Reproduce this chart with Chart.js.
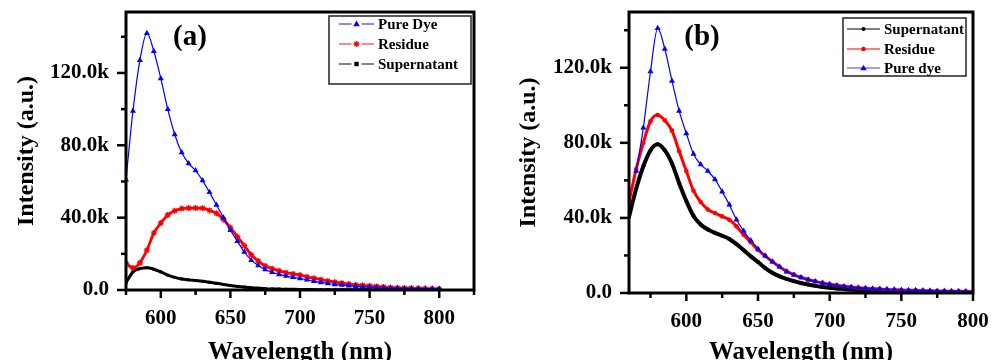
<!DOCTYPE html>
<html lang="en">
  <head>
    <meta charset="UTF-8" />
    <title>Emission spectra</title>
    <script src="https://cdn.jsdelivr.net/npm/chart.js"></script>
    <style>
      body { margin: 0; background: #fff; }
      #wrap { position: relative; width: 1003px; height: 360px; }
      canvas { position: absolute; top: 0; }
    </style>
  </head>
  <body>
    <div id="wrap">
      <canvas id="chartA" width="490" height="360" style="left: 0px"></canvas>
      <canvas id="chartB" width="503" height="360" style="left: 500px"></canvas>
    </div>

    <script>
      // intensities in thousands (k)
      // panel (a)
      const wlA = [575, 580, 585, 590, 595, 600, 605, 610, 615, 620,
        625, 630, 635, 640, 645, 650, 655, 660, 665, 670,
        675, 680, 685, 690, 695, 700, 705, 710, 715, 720,
        725, 730, 735, 740, 745, 750, 755, 760, 765, 770,
        775, 780, 785, 790, 795, 800];
      const pureDyeA = [61, 99, 127, 142, 132, 117, 100, 86, 76, 70,
        66, 60.5, 54, 47, 40, 33, 27, 21, 16.5, 13.5,
        11.3, 9.8, 8.6, 7.7, 7.0, 6.4, 5.6, 4.9, 4.2, 3.6,
        3.1, 2.7, 2.3, 2.0, 1.7, 1.5, 1.3, 1.15, 1.0, 0.9,
        0.85, 0.8, 0.75, 0.7, 0.65, 0.6];
      const residueA = [14.8, 12.2, 15, 22, 31.5, 37, 41.5, 43.8, 45, 45.3,
        45.3, 45.2, 44, 42.4, 39, 34.5, 29.5, 24.5, 19.5, 16,
        13.3, 11.8, 10.6, 9.6, 8.9, 8.3, 7.3, 6.5, 5.7, 5.0,
        4.4, 3.8, 3.3, 2.9, 2.6, 2.3, 2.0, 1.7, 1.4, 1.2,
        1.1, 1.0, 0.9, 0.8, 0.7, 0.6];
      const supernatantA = [4, 10, 11.8, 12.3, 11.5, 10, 8.2, 7, 6.1, 5.6,
        5.2, 4.8, 4.3, 3.7, 3.1, 2.5, 2.0, 1.6, 1.25, 1.0,
        0.75, 0.6, 0.5, 0.4, 0.35, 0.3, 0.25, 0.2, 0.2, 0.15,
        0.15, 0.1, 0.1, 0.1, 0.1, 0.05, 0.05, 0.05, 0.05, 0.05,
        0, 0, 0, 0, 0, 0];

      // panel (b)
      const wlB = [560, 565, 570, 575, 580, 585, 590, 595, 600, 605,
        610, 615, 620, 625, 630, 635, 640, 645, 650, 655,
        660, 665, 670, 675, 680, 685, 690, 695, 700, 705,
        710, 715, 720, 725, 730, 735, 740, 745, 750, 755,
        760, 765, 770, 775, 780, 785, 790, 795, 800];
      const supernatantB = [40.5, 55.5, 67.5, 76, 79.2, 76, 69, 58.5, 49, 41,
        36.5, 33.8, 32, 30.5, 28.8, 26, 22.8, 19.5, 16.5, 13.3,
        10.8, 8.9, 7.5, 6.3, 5.3, 4.5, 3.8, 3.2, 2.8, 2.4,
        2.1, 1.8, 1.6, 1.4, 1.2, 1.05, 0.9, 0.8, 0.7, 0.65,
        0.6, 0.55, 0.5, 0.45, 0.4, 0.4, 0.35, 0.35, 0.3];
      const residueB = [48.5, 66, 80, 91.5, 94.8, 92, 86.5, 75.5, 65, 54.5,
        48.5, 44.5, 42.6, 40.8, 39, 35.5, 31, 27, 23, 19.8,
        16.8, 14, 11.6, 9.8, 8.4, 7.2, 6.2, 5.4, 4.7, 4.1,
        3.6, 3.2, 2.8, 2.5, 2.3, 2.1, 1.9, 1.75, 1.6, 1.5,
        1.4, 1.3, 1.2, 1.1, 1.0, 0.95, 0.9, 0.85, 0.8];
      const pureDyeB = [null, 65, 88, 118, 141, 130, 113, 97, 85, 74,
        68.5, 65, 60.5, 54, 47, 39, 33, 28, 23.5, 19.8,
        16.6, 14, 11.3, 9.6, 8.2, 7.1, 6.1, 5.3, 4.6, 4.0,
        3.5, 3.1, 2.8, 2.5, 2.3, 2.1, 1.95, 1.8, 1.65, 1.5,
        1.4, 1.3, 1.2, 1.1, 1.0, 0.95, 0.9, 0.85, 0.8];

      // tick positions
      const yMajor = [0, 40, 80, 120];
      const yMinor = [20, 60, 100, 140];
      const xMajor = [600, 650, 700, 750, 800];
      const xMinor = [575, 625, 675, 725, 775, 825];

      const FONT = '"Liberation Serif", "Times New Roman", serif';

      const toXY = (xs, ys) => xs.map((x, i) => ({ x: x, y: ys[i] }));

      function drawMarker(ctx, style, x, y, r, color) {
        ctx.save();
        ctx.fillStyle = color;
        ctx.strokeStyle = color;
        ctx.lineWidth = 1.3;
        ctx.beginPath();
        if (style === "triangle") {
          ctx.moveTo(x, y - r);
          ctx.lineTo(x + r * 0.95, y + r * 0.65);
          ctx.lineTo(x - r * 0.95, y + r * 0.65);
          ctx.closePath();
          ctx.fill();
        } else if (style === "rect") {
          ctx.fillRect(x - r, y - r, 2 * r, 2 * r);
        } else if (style === "star") {
          for (let k = 0; k < 4; k++) {
            const a = (k * Math.PI) / 4;
            ctx.moveTo(x - r * Math.cos(a), y - r * Math.sin(a));
            ctx.lineTo(x + r * Math.cos(a), y + r * Math.sin(a));
          }
          ctx.stroke();
        } else {
          ctx.arc(x, y, r, 0, Math.PI * 2);
          ctx.fill();
        }
        ctx.restore();
      }

      // frame, tick marks, panel letter and legend box
      const decor = {
        id: "decor",
        afterDraw(chart, args, o) {
          const { ctx, chartArea: a, scales } = chart;
          const x = scales.x, y = scales.y;
          ctx.save();
          ctx.strokeStyle = "#000";
          ctx.lineWidth = 3;
          ctx.strokeRect(a.left, a.top, a.right - a.left, a.bottom - a.top);

          ctx.lineWidth = 2.5;
          const seg = (x1, y1, x2, y2) => {
            ctx.beginPath();
            ctx.moveTo(x1, y1);
            ctx.lineTo(x2, y2);
            ctx.stroke();
          };
          xMajor.forEach((v) => {
            const px = x.getPixelForValue(v);
            seg(px, a.bottom, px, a.bottom + 8);
          });
          xMinor.forEach((v) => {
            if (v < x.min || v > x.max) return;
            const px = x.getPixelForValue(v);
            seg(px, a.bottom, px, a.bottom + 5);
          });
          yMajor.forEach((v) => {
            const py = y.getPixelForValue(v);
            seg(a.left - 9, py, a.left, py);
          });
          yMinor.forEach((v) => {
            const py = y.getPixelForValue(v);
            seg(a.left - 5, py, a.left, py);
          });

          // panel letter
          ctx.fillStyle = "#000";
          ctx.font = "bold 29px " + FONT;
          ctx.textAlign = "center";
          ctx.textBaseline = "middle";
          ctx.fillText(o.label, o.labelX, o.labelY);

          // legend
          const L = o.legend;
          ctx.lineWidth = 1.5;
          ctx.strokeStyle = "#222";
          ctx.strokeRect(L.x, L.y, L.w, L.h);
          ctx.font = "bold 15px " + FONT;
          ctx.textAlign = "left";
          L.items.forEach((it, i) => {
            const ry = L.rows[i];
            ctx.strokeStyle = it.line;
            ctx.lineWidth = 1.2;
            const mid = (L.x1 + L.x2) / 2;
            if (L.gap) {
              seg(L.x1, ry, mid - 5, ry);
              seg(mid + 5, ry, L.x2, ry);
            } else {
              seg(L.x1, ry, L.x2, ry);
            }
            drawMarker(ctx, it.marker, mid, ry, it.r, it.color);
            ctx.fillStyle = "#000";
            ctx.fillText(it.text, L.tx, ry + 1);
          });
          ctx.restore();
        },
      };

      function makeOptions(xmin, xmax, ymax, yWidth, xHeight, padRight, yTitlePad, decorOpts) {
        return {
          responsive: false,
          animation: false,
          layout: { padding: { top: 12, right: padRight, left: 0, bottom: 0 } },
          plugins: { legend: { display: false }, tooltip: { enabled: false }, decor: decorOpts },
          scales: {
            x: {
              type: "linear",
              min: xmin,
              max: xmax,
              grid: { display: false, drawTicks: false },
              border: { display: false },
              afterBuildTicks: (s) => { s.ticks = xMajor.map((v) => ({ value: v })); },
              afterFit: (s) => {
                s.height = xHeight;
                s.paddingLeft = 0;
                s.paddingRight = 0;
              },
              ticks: {
                autoSkip: false,
                color: "#000",
                padding: 16,
                maxRotation: 0,
                font: { family: FONT, size: 21, weight: "bold" },
              },
              title: {
                display: true,
                text: "Wavelength (nm)",
                color: "#000",
                padding: { top: 0, bottom: -5 },
                font: { family: FONT, size: 25, weight: "bold", lineHeight: 1 },
              },
            },
            y: {
              min: 0,
              max: ymax,
              grid: { display: false, drawTicks: false },
              border: { display: false },
              afterBuildTicks: (s) => { s.ticks = yMajor.map((v) => ({ value: v })); },
              afterFit: (s) => {
                s.width = yWidth;
                s.paddingTop = 0;
                s.paddingBottom = 0;
              },
              ticks: {
                autoSkip: false,
                color: "#000",
                padding: 17,
                font: { family: FONT, size: 21, weight: "bold" },
                callback: (v) => (v === 0 ? "0.0" : v.toFixed(1) + "k"),
              },
              title: {
                display: true,
                text: "Intensity (a.u.)",
                color: "#000",
                padding: { top: yTitlePad, bottom: 0 },
                font: { family: FONT, size: 24, weight: "bold", lineHeight: 1 },
              },
            },
          },
        };
      }

      const line = (label, xs, ys, color, width, marker, r, order) => ({
        label: label,
        data: toXY(xs, ys),
        borderColor: color,
        backgroundColor: color,
        borderWidth: width,
        pointStyle: marker,
        pointRadius: r,
        pointBorderWidth: marker === "star" ? 1.3 : 0,
        pointBorderColor: color,
        pointBackgroundColor: color,
        cubicInterpolationMode: "monotone",
        order: order,
      });

      new Chart(document.getElementById("chartA"), {
        type: "line",
        data: {
          datasets: [
            line("Pure Dye", wlA, pureDyeA, "#0000ff", 1.2, "triangle", 3.5, 0),
            line("Residue", wlA, residueA, "#ff0000", 2.8, "star", 3, 1),
            line("Supernatant", wlA, supernatantA, "#000000", 3, "rect", 2, 2),
          ],
        },
        options: makeOptions(575, 825, 153.7, 126, 70, 16, 15, {
          label: "(a)",
          labelX: 190,
          labelY: 38,
          legend: {
            x: 329, y: 16, w: 142, h: 68,
            x1: 339, x2: 374, tx: 378, gap: true,
            rows: [24, 44, 64],
            items: [
              { text: "Pure Dye", line: "#3a3aff", color: "#0000ff", marker: "triangle", r: 3.5 },
              { text: "Residue", line: "#ff3a3a", color: "#ff0000", marker: "star", r: 3 },
              { text: "Supernatant", line: "#333", color: "#000", marker: "rect", r: 2.2 },
            ],
          },
        }),
        plugins: [decor],
      });

      new Chart(document.getElementById("chartB"), {
        type: "line",
        data: {
          datasets: [
            line("Supernatant", wlB, supernatantB, "#000000", 4, "circle", 2, 2),
            line("Residue", wlB, residueB, "#ff0000", 3, "circle", 2.3, 1),
            line("Pure dye", wlB, pureDyeB, "#0000ff", 1.2, "triangle", 3.5, 0),
          ],
        },
        options: makeOptions(560, 800, 149.7, 129, 67, 30, 17, {
          label: "(b)",
          labelX: 202,
          labelY: 38,
          legend: {
            x: 343, y: 18, w: 123, h: 58,
            x1: 347, x2: 380, tx: 384, gap: false,
            rows: [29, 49, 68],
            items: [
              { text: "Supernatant", line: "#000", color: "#000", marker: "circle", r: 2 },
              { text: "Residue", line: "#ff0000", color: "#ff0000", marker: "circle", r: 2.3 },
              { text: "Pure dye", line: "#3a3aff", color: "#0000ff", marker: "triangle", r: 3.3 },
            ],
          },
        }),
        plugins: [decor],
      });
    </script>
  </body>
</html>
